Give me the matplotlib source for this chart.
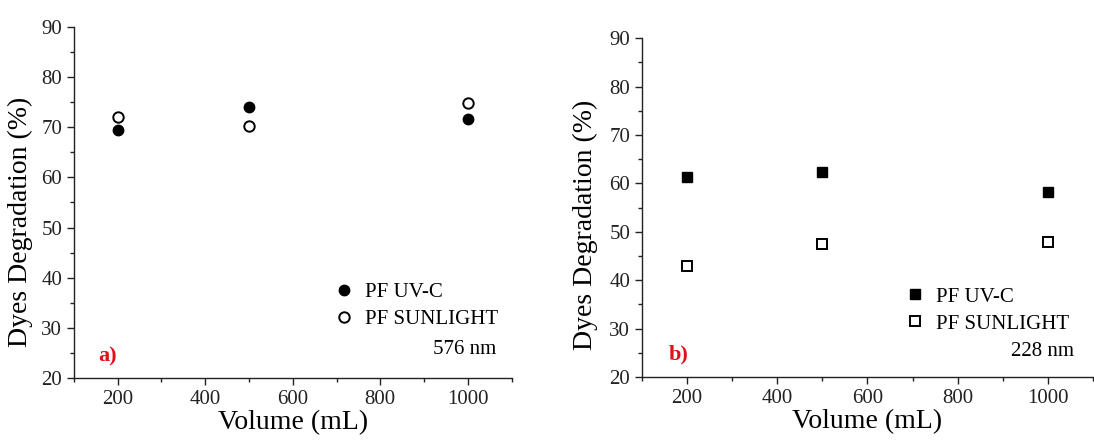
import numpy as np
import matplotlib
matplotlib.use("Agg")
import matplotlib.pyplot as plt
from matplotlib.ticker import MultipleLocator

plt.rcParams['font.family'] = ['Liberation Serif', 'DejaVu Serif']

#%% data
volume = [200, 500, 1000]
uvc_576 = [69.5, 74.0, 71.7]
sun_576 = [72.0, 70.3, 74.9]
uvc_228 = [61.4, 62.3, 58.3]
sun_228 = [43.0, 47.4, 47.8]
series_labels = ["PF UV-C", "PF SUNLIGHT"]

#%%
fig = plt.figure(figsize=(10.94, 4.44), dpi=100)
ax1 = fig.add_axes([0.0676, 0.149, 0.400, 0.790])
ax2 = fig.add_axes([0.5868, 0.151, 0.4122, 0.763])


def style_axis(ax, label_x, label_y):
    ax.set_xlim(100, 1100)
    ax.set_ylim(20, 90)
    ax.xaxis.set_major_locator(MultipleLocator(200))
    ax.xaxis.set_minor_locator(MultipleLocator(100))
    ax.yaxis.set_major_locator(MultipleLocator(10))
    ax.yaxis.set_minor_locator(MultipleLocator(5))
    ax.spines['top'].set_visible(False)
    ax.spines['right'].set_visible(False)
    for s in ('left', 'bottom'):
        ax.spines[s].set_color('#222222')
        ax.spines[s].set_linewidth(1.0)
    ax.tick_params(which='major', direction='out', length=5, width=1,
                   labelsize=15, colors='#222222')
    ax.tick_params(which='minor', direction='out', length=3, width=1, colors='#222222')
    ax.set_xlabel("Volume (mL)", fontsize=20, labelpad=1)
    ax.set_ylabel("Dyes Degradation (%)", fontsize=20)
    ax.yaxis.set_label_coords(label_x, label_y)


style_axis(ax1, -0.094, 0.445)
ax1.plot(volume, uvc_576, 'o', color='black', ms=7.5, label=series_labels[0])
ax1.plot(volume, sun_576, 'o', mfc='white', mec='black', mew=1.4, ms=7.5,
         label=series_labels[1])
ax1.legend(loc='upper left', bbox_to_anchor=(0.57, 0.295), frameon=False,
           fontsize=15, handletextpad=0.4, labelspacing=0.35, handlelength=1.2,
           borderaxespad=0)
ax1.text(0.965, 0.08, "576 nm", transform=ax1.transAxes, ha='right', va='center',
         fontsize=15)
ax1.text(0.055, 0.06, "a)", transform=ax1.transAxes, ha='left', va='center',
         fontsize=16, color='#e0101a', fontweight='bold')

style_axis(ax2, -0.098, 0.448)
ax2.plot(volume, uvc_228, 's', color='black', ms=7, label=series_labels[0])
ax2.plot(volume, sun_228, 's', mfc='white', mec='black', mew=1.4, ms=6.5,
         label=series_labels[1])
ax2.legend(loc='upper left', bbox_to_anchor=(0.56, 0.29), frameon=False,
           fontsize=15, handletextpad=0.4, labelspacing=0.35, handlelength=1.2,
           borderaxespad=0)
ax2.text(0.958, 0.075, "228 nm", transform=ax2.transAxes, ha='right', va='center',
         fontsize=15)
ax2.text(0.06, 0.065, "b)", transform=ax2.transAxes, ha='left', va='center',
         fontsize=16, color='#e0101a', fontweight='bold')

plt.savefig("out.png", dpi=100)
plt.close(fig)
